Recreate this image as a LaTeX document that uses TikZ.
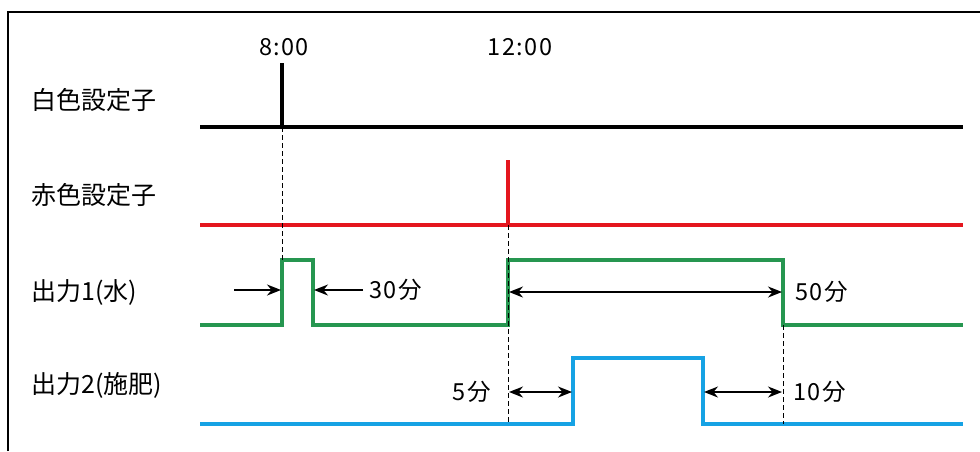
\documentclass[tikz,border=0pt]{standalone}
\usepackage{fontspec}
\setmainfont{Noto Sans CJK JP}
\usetikzlibrary{arrows.meta}
\definecolor{sigred}{RGB}{228,22,30}
\definecolor{siggreen}{RGB}{38,150,80}
\definecolor{sigblue}{RGB}{22,162,228}
\tikzset{
  sig/.style={line width=3.4pt, line join=miter},
  guide/.style={line width=1pt, dash pattern=on 5pt off 3pt},
  dim/.style={line width=1.7pt},
  lbl/.style={anchor=west, inner sep=0pt, font=\fontsize{25}{25}\selectfont},
  txt/.style={inner sep=0pt, font=\fontsize{23.5}{24}\selectfont\addfontfeature{LetterSpace=6}},
}
\begin{document}
\begin{tikzpicture}[x=1pt, y=-1pt, >={Stealth[length=14pt,width=11pt]}]
			\useasboundingbox (0,0) rectangle (980,451);
			% frame
			\draw[line width=1.6pt] (8,451) -- (8,12) -- (980,12);
			
			% row labels
			\node[lbl] (white) at (31,100) {白色設定子};
			\node[lbl] (red) at (31,195) {赤色設定子};
			\node[lbl] (out1) at (31,292) {出力1(水)};
			\node[lbl] (out2) at (31,385) {出力2(施肥)};
			
			% times
			\node[txt] (t8) at (284,47) {8:00};
			\node[txt] (t12) at (520,47) {12:00};
			
			% white setter
			\draw[sig] (200,127) -- (963,127);
			\draw[sig] (282,127) coordinate (wbase) -- (282,63);
			
			% red setter
			\draw[sig, sigred] (200,225) -- (963,225);
			\draw[sig, sigred] (508,225) coordinate (rbase) -- (508,160);
			
			% output 1 (water)
			\draw[sig, siggreen] (200,325) -- (282,325) -- (282,260) coordinate (g1)
			-- (313,260) -- (313,325) -- (508,325) -- (508,260)
			-- (783,260) -- (783,325) coordinate (g4) -- (963,325);
			
			% output 2 (fertiliser)
			\draw[sig, sigblue] (200,424) -- (573,424) -- (573,358) -- (703,358)
			-- (703,424) -- (963,424);
			\coordinate (b0) at (508,424);
			\coordinate (b3) at (783,424);
			
			% guides
			\draw[guide] (wbase) -- (g1);
			\draw[guide] (rbase) -- (b0);
			\draw[guide] (g4) -- (b3);
			
			% durations
			\coordinate (a1) at (234,290);
			\coordinate (a2) at (281,290);
			\coordinate (a3) at (363,290);
			\coordinate (a4) at (314,290);
			\draw[dim, ->] (a1) -- (a2);
			\draw[dim, ->] (a3) -- (a4);
			\node[txt, anchor=west] (d30) at (369,290) {30分};
			
			\coordinate (c1) at (509,292);
			\coordinate (c2) at (782,292);
			\draw[dim, <->] (c1) -- (c2);
			\node[txt, anchor=west] (d50) at (795,292) {50分};
			
			\coordinate (e1) at (509,392);
			\coordinate (e2) at (572,392);
			\coordinate (e3) at (704,392);
			\coordinate (e4) at (782,392);
			\draw[dim, <->] (e1) -- (e2);
			\draw[dim, <->] (e3) -- (e4);
			\node[txt, anchor=east] (d5) at (491,392) {5分};
			\node[txt, anchor=west] (d10) at (793,392) {10分};
\end{tikzpicture}
\end{document}
